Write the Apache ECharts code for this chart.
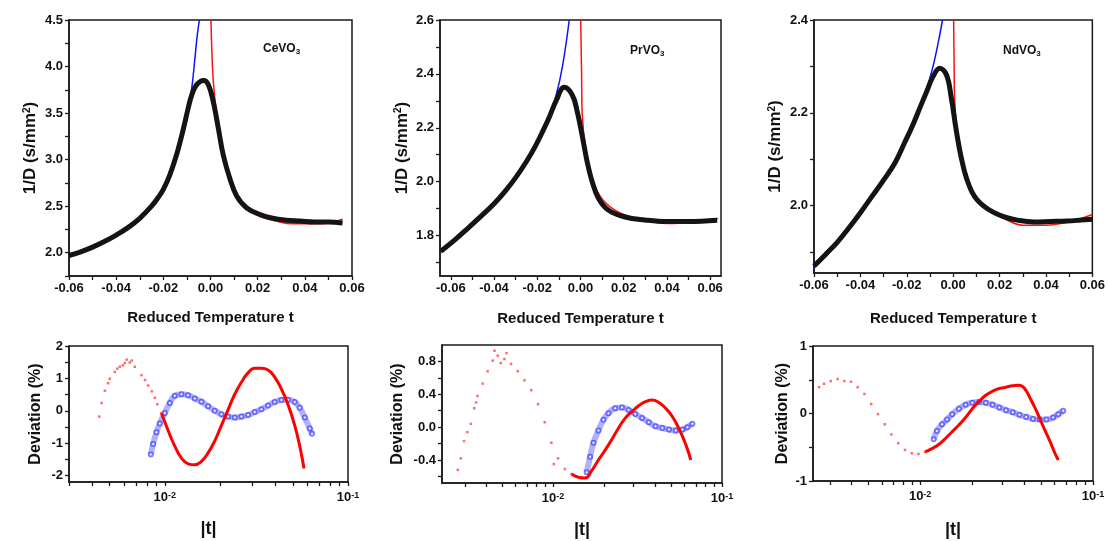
<!DOCTYPE html>
<html><head><meta charset="utf-8">
<script src="https://cdn.jsdelivr.net/npm/echarts@6/dist/echarts.min.js"></script>
<style>html,body{margin:0;padding:0;background:#fff}#c{width:1108px;height:541px}</style>
</head><body><div id="c"></div>
<script>
// ---------------- DATA ----------------
const compoundNames = ['CeVO', 'PrVO', 'NdVO'];

// Top panels: 1/D vs reduced temperature t (black = measured, blue = fit t<0, red = fit t>0)
const ceData = [[-0.060,1.97],[-0.055,2.01],[-0.050,2.06],[-0.045,2.12],[-0.040,2.19],[-0.035,2.27],[-0.030,2.37],[-0.025,2.50],[-0.022,2.60],[-0.020,2.68],[-0.0172,2.84],[-0.0143,3.06],[-0.0115,3.33],[-0.0094,3.56],[-0.008,3.69],[-0.006,3.80],[-0.003,3.85],[-0.001,3.81],[0.0012,3.62],[0.0033,3.34],[0.0054,3.05],[0.0083,2.79],[0.0111,2.61],[0.0154,2.48],[0.021,2.41],[0.0264,2.37],[0.032,2.35],[0.038,2.34],[0.044,2.33],[0.050,2.33],[0.056,2.32]];
const ceFitBlue = [[-0.060,1.96],[-0.050,2.06],[-0.040,2.19],[-0.030,2.37],[-0.020,2.68],[-0.0143,3.06],[-0.0115,3.33],[-0.0094,3.58],[-0.008,3.76],[-0.0066,4.09],[-0.0056,4.34],[-0.0047,4.5]];
const ceFitRed = [[0.0002,4.5],[0.0006,4.15],[0.0012,3.84],[0.0026,3.48],[0.0047,3.13],[0.0083,2.77],[0.0132,2.55],[0.0196,2.41],[0.028,2.34],[0.035,2.31],[0.042,2.31],[0.050,2.32],[0.056,2.36]];

const prData = [[-0.0646,1.742],[-0.058,1.785],[-0.052,1.828],[-0.046,1.872],[-0.040,1.918],[-0.035,1.963],[-0.030,2.015],[-0.025,2.075],[-0.021,2.13],[-0.017,2.195],[-0.0144,2.24],[-0.0113,2.30],[-0.0075,2.35],[-0.0037,2.32],[-0.0015,2.26],[0.0008,2.17],[0.0031,2.073],[0.0054,2.00],[0.0084,1.937],[0.013,1.894],[0.0206,1.869],[0.0297,1.858],[0.040,1.852],[0.050,1.852],[0.0632,1.857]];
const prFitBlue = [[-0.0646,1.738],[-0.052,1.826],[-0.040,1.916],[-0.030,2.013],[-0.021,2.13],[-0.0144,2.245],[-0.0113,2.32],[-0.0083,2.43],[-0.0052,2.6]];
const prFitRed = [[0.0001,2.6],[0.0005,2.40],[0.0008,2.25],[0.0024,2.123],[0.0054,2.011],[0.0099,1.937],[0.0176,1.887],[0.028,1.86],[0.040,1.845],[0.050,1.848],[0.0637,1.863]];

const ndData = [[-0.060,1.870],[-0.055,1.895],[-0.050,1.921],[-0.045,1.952],[-0.040,1.985],[-0.035,2.02],[-0.030,2.055],[-0.025,2.093],[-0.021,2.135],[-0.0173,2.175],[-0.014,2.215],[-0.0115,2.245],[-0.0087,2.278],[-0.0058,2.296],[-0.0029,2.282],[-0.0008,2.232],[0.0014,2.160],[0.0035,2.103],[0.0057,2.060],[0.0092,2.020],[0.0143,1.995],[0.0214,1.977],[0.0286,1.968],[0.035,1.965],[0.042,1.966],[0.049,1.967],[0.055,1.969],[0.0601,1.971]];
const ndFitBlue = [[-0.060,1.866],[-0.050,1.919],[-0.040,1.984],[-0.030,2.055],[-0.021,2.135],[-0.014,2.215],[-0.0115,2.25],[-0.0087,2.30],[-0.0065,2.35],[-0.0046,2.4]];
const ndFitRed = [[0.0002,2.4],[0.0004,2.31],[0.0006,2.232],[0.0021,2.138],[0.0049,2.067],[0.010,2.013],[0.016,1.99],[0.022,1.972],[0.030,1.958],[0.040,1.958],[0.050,1.965],[0.060,1.981]];

// Bottom panels: deviation (%) vs |t|
const ceDevRedSparse = [[0.00439,-0.18],[0.00452,0.24],[0.00471,0.62],[0.0049,0.85],[0.00501,0.99],[0.00533,1.20],[0.0055,1.30],[0.00568,1.36],[0.0059,1.40],[0.00605,1.47],[0.0062,1.58],[0.00644,1.49],[0.0066,1.55],[0.00686,1.36],[0.00746,1.10],[0.0078,0.95],[0.00811,0.78],[0.0085,0.60],[0.00882,0.40],[0.0091,0.20],[0.00959,-0.07]];
const ceDevRedDense = [[0.00959,-0.07],[0.01043,-0.61],[0.01134,-1.09],[0.01233,-1.46],[0.0134,-1.64],[0.01458,-1.67],[0.01585,-1.56],[0.01723,-1.30],[0.01874,-0.93],[0.02037,-0.45],[0.02215,0.03],[0.02409,0.51],[0.02619,0.88],[0.02848,1.17],[0.03097,1.31],[0.03367,1.31],[0.03661,1.26],[0.03981,1.04],[0.04329,0.67],[0.04707,0.19],[0.05118,-0.45],[0.0545,-1.09],[0.05754,-1.78]];
const ceDevBlue = [[0.00839,-1.35],[0.00863,-1.03],[0.00901,-0.66],[0.00939,-0.39],[0.0100,-0.07],[0.01065,0.24],[0.01134,0.46],[0.01233,0.51],[0.0134,0.48],[0.01458,0.38],[0.01585,0.28],[0.01723,0.14],[0.01874,0.0],[0.02037,-0.11],[0.02215,-0.18],[0.02409,-0.21],[0.02619,-0.18],[0.02848,-0.13],[0.03097,-0.04],[0.03367,0.05],[0.03661,0.16],[0.03981,0.27],[0.04329,0.33],[0.04707,0.34],[0.05118,0.27],[0.0545,0.09],[0.05807,-0.21],[0.06183,-0.55],[0.06364,-0.71]];

const prDevRedSparse = [[0.00273,-0.52],[0.00284,-0.38],[0.00297,-0.17],[0.00311,-0.06],[0.00326,0.04],[0.00341,0.23],[0.0035,0.30],[0.00357,0.38],[0.00383,0.53],[0.0041,0.68],[0.00439,0.81],[0.0045,0.93],[0.0047,0.87],[0.0049,0.78],[0.00515,0.83],[0.0053,0.90],[0.00564,0.77],[0.00618,0.68],[0.00677,0.57],[0.00743,0.45],[0.00814,0.28],[0.00892,0.06],[0.00977,-0.19],[0.0101,-0.45],[0.0107,-0.38],[0.01174,-0.51],[0.01286,-0.57]];
const prDevRedDense = [[0.01286,-0.57],[0.01409,-0.61],[0.01545,-0.62],[0.01693,-0.53],[0.01855,-0.40],[0.02033,-0.28],[0.02228,-0.15],[0.02442,-0.01],[0.02676,0.11],[0.02932,0.19],[0.03213,0.26],[0.03521,0.31],[0.03859,0.33],[0.04229,0.30],[0.04634,0.23],[0.05078,0.13],[0.05565,-0.02],[0.06099,-0.21],[0.06535,-0.40]];
const prDevBlue = [[0.01581,-0.55],[0.01656,-0.36],[0.01734,-0.19],[0.01855,-0.04],[0.01986,0.09],[0.02128,0.17],[0.02331,0.23],[0.02557,0.24],[0.02799,0.21],[0.03069,0.16],[0.03365,0.11],[0.03688,0.06],[0.04041,0.01],[0.04429,-0.01],[0.04854,-0.03],[0.0532,-0.04],[0.05826,-0.03],[0.06237,0.00],[0.06683,0.04]];

const ndDevRedSparse = [[0.0026,0.39],[0.00278,0.44],[0.00304,0.48],[0.00333,0.51],[0.00364,0.48],[0.00398,0.47],[0.00435,0.39],[0.00476,0.29],[0.00521,0.14],[0.0057,-0.01],[0.00624,-0.16],[0.00682,-0.31],[0.00747,-0.44],[0.00817,-0.54],[0.00894,-0.59],[0.00978,-0.60],[0.01069,-0.57]];
const ndDevRedDense = [[0.01069,-0.57],[0.0117,-0.52],[0.0128,-0.46],[0.014,-0.37],[0.01531,-0.27],[0.01675,-0.17],[0.01832,-0.06],[0.02004,0.07],[0.02192,0.18],[0.02397,0.27],[0.02622,0.33],[0.02868,0.37],[0.03137,0.39],[0.03432,0.41],[0.03754,0.42],[0.04017,0.37],[0.04303,0.24],[0.04707,0.04],[0.05149,-0.19],[0.05632,-0.41],[0.06026,-0.59],[0.06302,-0.69]];
const ndDevBlue = [[0.01197,-0.38],[0.01251,-0.26],[0.01339,-0.16],[0.01433,-0.09],[0.01532,-0.01],[0.01676,0.07],[0.01833,0.13],[0.02004,0.16],[0.02193,0.17],[0.02398,0.16],[0.02623,0.13],[0.02869,0.09],[0.03138,0.05],[0.03433,0.02],[0.03754,-0.02],[0.04106,-0.05],[0.04492,-0.08],[0.04914,-0.09],[0.05375,-0.09],[0.05879,-0.06],[0.06297,-0.01],[0.06728,0.04]];

// Axis ticks / labels
const topXLabels = [-0.06,-0.04,-0.02,0,0.02,0.04,0.06];
const topXTicks = [-0.06,-0.05,-0.04,-0.03,-0.02,-0.01,0,0.01,0.02,0.03,0.04,0.05,0.06];
const ceYLabels = [2.0,2.5,3.0,3.5,4.0,4.5];
const ceYTicks = [1.75,2.0,2.25,2.5,2.75,3.0,3.25,3.5,3.75,4.0,4.25,4.5];
const prYLabels = [1.8,2.0,2.2,2.4,2.6];
const prYTicks = [1.7,1.8,1.9,2.0,2.1,2.2,2.3,2.4,2.5,2.6];
const ndYLabels = [2.0,2.2,2.4];
const ndYTicks = [1.9,2.0,2.1,2.2,2.3,2.4];
const logXLabels = [0.01,0.1];
const logXTicks = [0.002,0.003,0.004,0.005,0.006,0.007,0.008,0.009,0.01,0.02,0.03,0.04,0.05,0.06,0.07,0.08,0.09,0.1];
const ceDevYLabels = [-2,-1,0,1,2];
const ceDevYTicks = [-2,-1.5,-1,-0.5,0,0.5,1,1.5,2];
const prDevYLabels = [-0.4,0.0,0.4,0.8];
const prDevYTicks = [-0.6,-0.4,-0.2,0,0.2,0.4,0.6,0.8];
const ndDevYLabels = [-1,0,1];
const ndDevYTicks = [-1,-0.5,0,0.5,1];

// ---------------- CHART ----------------
const FONT = 'Liberation Sans, Arial, sans-serif';
const AX = '#1a1a1a';
const chart = echarts.init(document.getElementById('c'), null, {renderer:'canvas'});

const grids = [
  {left:69, top:20, width:283, height:256},
  {left:440, top:20, width:281, height:256},
  {left:814, top:20, width:279, height:253},
  {left:69, top:346, width:279, height:136},
  {left:442, top:345, width:280, height:138},
  {left:813, top:346, width:280, height:135}
].map(g => Object.assign({show:true, borderColor:AX, borderWidth:1.5, backgroundColor:'transparent'}, g));

const labelStyle = {color:'#111', fontWeight:'bold', fontSize:13, fontFamily:FONT};
const nameStyle = (size) => ({color:'#111', fontWeight:'bold', fontSize:size, fontFamily:FONT,
  rich:{sup:{fontSize:Math.round(size*0.6), fontWeight:'bold', fontFamily:FONT, color:'#111', verticalAlign:'top', lineHeight:size*0.6, padding:[0,0,size*0.5,0]}}});

function valAxis(gi, min, max, labels, ticks, fmt, extra) {
  return Object.assign({
    type:'value', gridIndex:gi, min:min, max:max,
    axisLine:{show:true, onZero:false, lineStyle:{color:AX, width:1.5}},
    axisTick:{show:true, length:4, customValues:ticks, lineStyle:{color:AX, width:1.3}},
    axisLabel:Object.assign({customValues:labels, formatter:fmt, margin:6}, labelStyle),
    splitLine:{show:false}
  }, extra);
}
function logAxis(gi, min, extra) {
  return Object.assign({
    type:'log', logBase:10, gridIndex:gi, min:min, max:0.1,
    axisLine:{show:true, onZero:false, lineStyle:{color:AX, width:1.5}},
    axisTick:{show:true, length:4, customValues:logXTicks, lineStyle:{color:AX, width:1.3}},
    axisLabel:Object.assign({customValues:logXLabels, margin:9,
      formatter:v => '10{sup|' + Math.round(Math.log10(v)) + '}',
      rich:{sup:{fontSize:9, fontWeight:'bold', fontFamily:FONT, color:'#111', verticalAlign:'top', lineHeight:9, padding:[0,0,7,0]}}}, labelStyle),
    splitLine:{show:false},
    name:'|t|', nameLocation:'middle', nameGap:38, nameTextStyle:nameStyle(18)
  }, extra);
}

const fmt2 = v => v.toFixed(2);
const fmt1 = v => v.toFixed(1);
const fmt0 = v => String(Math.round(v));
const xName = {name:'Reduced Temperature t', nameLocation:'middle', nameGap:34, nameTextStyle:nameStyle(15)};
const yTopName = {name:'1/D (s/mm{sup|2})', nameLocation:'middle', nameTextStyle:nameStyle(17)};
const yDevName = {name:'Deviation (%)', nameLocation:'middle', nameTextStyle:nameStyle(16)};

const xAxes = [
  valAxis(0, -0.06, 0.06, topXLabels, topXTicks, fmt2, xName),
  valAxis(1, -0.065, 0.065, topXLabels, topXTicks, fmt2, Object.assign({}, xName, {nameGap:35})),
  valAxis(2, -0.06, 0.06, topXLabels, topXTicks, fmt2, Object.assign({}, xName, {nameGap:38})),
  logAxis(3, 0.003),
  logAxis(4, 0.0022),
  logAxis(5, 0.0024, {nameGap:40})
];
const yAxes = [
  valAxis(0, 1.75, 4.5, ceYLabels, ceYTicks, fmt1, Object.assign({nameGap:30}, yTopName)),
  valAxis(1, 1.65, 2.6, prYLabels, prYTicks, fmt1, Object.assign({nameGap:29}, yTopName)),
  valAxis(2, 1.855, 2.4, ndYLabels, ndYTicks, fmt1, Object.assign({nameGap:30}, yTopName)),
  valAxis(3, -2.2, 2, ceDevYLabels, ceDevYTicks, fmt0, Object.assign({nameGap:25}, yDevName)),
  valAxis(4, -0.68, 1.0, prDevYLabels, prDevYTicks, fmt1, Object.assign({nameGap:36}, yDevName)),
  valAxis(5, -1, 1, ndDevYLabels, ndDevYTicks, fmt0, Object.assign({nameGap:22}, yDevName))
];

const series = [];
function topSeries(i, data, blue, red) {
  series.push({type:'line', xAxisIndex:i, yAxisIndex:i, data:blue, showSymbol:false, smooth:0.4, z:2,
    lineStyle:{color:'#1010ff', width:1.5}});
  series.push({type:'line', xAxisIndex:i, yAxisIndex:i, data:red, showSymbol:false, smooth:0.4, z:2,
    lineStyle:{color:'#ff1010', width:1.5}});
  series.push({type:'line', xAxisIndex:i, yAxisIndex:i, data:data, smooth:0.4, z:3,
    showSymbol:false, lineStyle:{color:'#141414', width:5}});
}
function botSeries(i, sparse, dense, blue) {
  series.push({type:'line', xAxisIndex:i, yAxisIndex:i, data:blue, smooth:true, z:2,
    symbol:'emptyCircle', symbolSize:4, showSymbol:true,
    itemStyle:{color:'rgba(40,40,255,0.6)', borderColor:'rgba(40,40,255,0.6)', borderWidth:1},
    lineStyle:{color:'rgba(80,80,255,0.45)', width:6}});
  series.push({type:'scatter', xAxisIndex:i, yAxisIndex:i, data:sparse, z:3,
    symbol:'rect', symbolSize:2.5, itemStyle:{color:'rgba(255,40,40,0.85)'}});
  series.push({type:'line', xAxisIndex:i, yAxisIndex:i, data:dense, smooth:true, z:3,
    showSymbol:false, lineStyle:{color:'#ff0000', width:3}});
}
topSeries(0, ceData, ceFitBlue, ceFitRed);
topSeries(1, prData, prFitBlue, prFitRed);
topSeries(2, ndData, ndFitBlue, ndFitRed);
botSeries(3, ceDevRedSparse, ceDevRedDense, ceDevBlue);
botSeries(4, prDevRedSparse, prDevRedDense, prDevBlue);
botSeries(5, ndDevRedSparse, ndDevRedDense, ndDevBlue);

const labelPos = [[263,43],[630,45],[1003,45]];
const graphic = compoundNames.map((n, k) => ({
  type:'text', left:labelPos[k][0], top:labelPos[k][1], z:10,
  style:{text:n + '{sub|3}', fill:'#111', font:'bold 12px ' + FONT,
    rich:{sub:{fontSize:8, fontWeight:'bold', fontFamily:FONT, fill:'#111', verticalAlign:'bottom', padding:[6,0,0,0]}}}
}));

chart.setOption({
  animation:false,
  backgroundColor:'#ffffff',
  grid:grids, xAxis:xAxes, yAxis:yAxes, series:series, graphic:graphic
});
</script>
</body></html>
